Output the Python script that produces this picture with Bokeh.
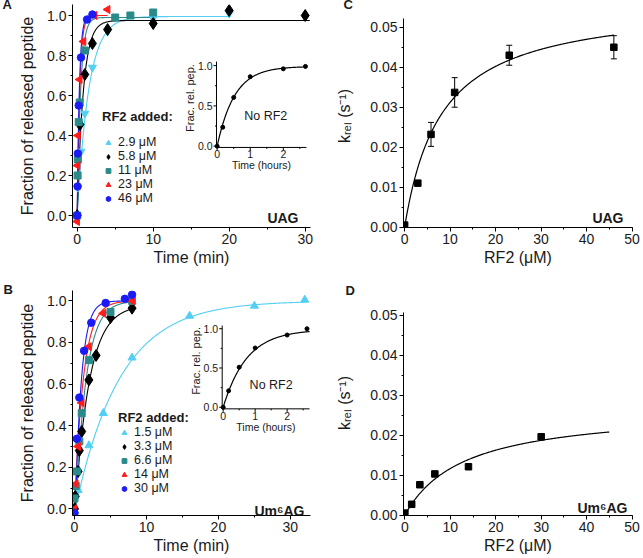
import numpy as np
from bokeh.plotting import figure
from bokeh.models import (Range1d, SingleIntervalTicker, NumeralTickFormatter,
                          Legend, LegendItem, Label, Title)
from bokeh.layouts import column, row
from bokeh.embed import file_html
from bokeh.resources import INLINE
from bokeh.core.properties import value

FONT = "Liberation Sans"
TXT = "#1a1a1a"

# ---------------- data: panel A (UAG) ----------------
a_labels = ["2.9 μM", "5.8 μM", "11 μM", "23 μM", "46 μM"]
a_t_29 = [0, 0.08, 0.5, 1, 2, 4, 10, 20]
a_f_29 = [0.0, 0.14, 0.32, 0.51, 0.74, 0.92, 0.985, 1.01]
a_t_58 = [0, 0.35, 1, 2, 4, 10, 20, 30]
a_f_58 = [0.0, 0.455, 0.705, 0.86, 0.93, 0.96, 1.025, 1.0]
a_t_11 = [0, 0.05, 0.08, 0.2, 0.33, 1, 5, 7, 10]
a_f_11 = [0.0, 0.2, 0.28, 0.467, 0.565, 0.825, 0.99, 1.0, 1.015]
a_t_23 = [0, 0.05, 0.1, 0.33, 0.83, 2.3, 4]
a_f_23 = [-0.03, 0.25, 0.40, 0.68, 0.87, 1.0, 1.03]
a_t_46 = [0, 0.05, 0.08, 0.2, 0.5, 1.3, 2]
a_f_46 = [0.0, 0.145, 0.31, 0.55, 0.79, 0.98, 1.005]
# single-exponential fit parameters (amplitude, rate /min, lag min, last time)
a_fit_amp = [0.995, 0.975, 0.99, 1.0, 1.0]
a_fit_k = [0.66, 1.25, 2.2, 3.0, 3.5]
a_fit_lag = [0.0, 0.0, 0.0, 0.0, 0.0]
a_fit_end = [20, 30.6, 10, 4, 2]

# inset A (no RF2, hours)
ia_t = [0, 0.17, 0.5, 1, 2, 2.67]
ia_f = [0.0, 0.235, 0.605, 0.862, 0.96, 0.99]
ia_fit = [0.99, 1.9]

# ---------------- data: panel B (Um6AG) ----------------
b_labels = ["1.5 μM", "3.3 μM", "6.6 μM", "14 μM", "30 μM"]
b_t_15 = [0, 0.5, 2, 4, 8, 16, 25, 32]
b_f_15 = [-0.01, 0.09, 0.305, 0.46, 0.727, 0.928, 0.976, 1.005]
b_t_33 = [0, 0.1, 0.5, 0.67, 1, 2, 3, 5, 8]
b_f_33 = [0.0, 0.06, 0.18, 0.28, 0.372, 0.62, 0.738, 0.92, 0.965]
b_t_66 = [0, 0.17, 0.33, 0.67, 1, 2, 5, 8]
b_f_66 = [0.05, 0.11, 0.18, 0.325, 0.46, 0.715, 0.947, 1.0]
b_t_14 = [0, 0.17, 0.5, 1, 2, 4, 8]
b_f_14 = [0.0, 0.12, 0.30, 0.51, 0.78, 0.94, 1.0]
b_t_30 = [0, 0.33, 0.67, 1.33, 2.33, 4.33, 7, 8]
b_f_30 = [-0.02, 0.337, 0.535, 0.76, 0.895, 0.99, 1.01, 1.03]
b_fit_amp = [1.0, 0.98, 1.0, 1.0, 1.0]
b_fit_k = [0.16, 0.5, 0.68, 0.8, 1.15]
b_fit_lag = [0.1, 0.1, 0.18, 0.0, 0.12]
b_fit_end = [32, 8, 8, 8, 8]

ib_t = [0, 0.17, 0.5, 1, 2, 2.62]
ib_f = [0.0, 0.21, 0.51, 0.755, 0.92, 1.0]
ib_fit = [0.99, 1.35]

# ---------------- data: panel C (UAG) ----------------
c_rf2 = [0, 2.9, 5.8, 11, 23, 46]
c_k = [0.0005, 0.011, 0.0232, 0.0337, 0.043, 0.045]
c_err = [0.0002, 0.0005, 0.003, 0.0037, 0.0025, 0.0029]
c_fit = [0.0565, 8.1, 46]   # kmax, K1/2, last x

# ---------------- data: panel D (Um6AG) ----------------
d_rf2 = [0, 1.5, 3.3, 6.6, 14, 30]
d_k = [0.0005, 0.0027, 0.0076, 0.0103, 0.0121, 0.0196]
d_err = [0.0002, 0.0003, 0.0006, 0.0004, 0.0004, 0.0007]
d_fit = [0.0268, 13.0, 45]

inset_xticks = [0, 1, 2]
inset_xlabels = ["0", "1", "2"]
inset_xminor = [0.5, 1.5, 2.5]
inset_yticks = [0.0, 0.5, 1.0]
inset_ylabels = ["0.0", "0.5", "1.0"]
inset_yminor = [0.25, 0.75]

COLORS = ["#52cff3", "#000000", "#2b8a89", "#ff1c1c", "#1b1bf5"]


def make_fig(w, h, xr, yr, bl, br, bt, bb, ylab_standoff):
    p = figure(width=w, height=h, x_range=Range1d(*xr), y_range=Range1d(*yr),
               output_backend="svg", toolbar_location=None,
               min_border_left=bl, min_border_right=br,
               min_border_top=bt, min_border_bottom=bb)
    p.grid.visible = False
    p.outline_line_color = None
    for ax in (p.xaxis[0], p.yaxis[0]):
        ax.axis_line_color = "black"
        ax.major_tick_line_color = "black"
        ax.minor_tick_line_color = "black"
        ax.major_tick_in = 0
        ax.major_tick_out = 4
        ax.minor_tick_in = 0
        ax.minor_tick_out = 2
        ax.major_label_text_font = FONT
        ax.major_label_text_font_size = "14px"
        ax.major_label_text_color = TXT
        ax.axis_label_text_font = FONT
        ax.axis_label_text_font_size = "16px"
        ax.axis_label_text_font_style = "normal"
        ax.axis_label_text_color = TXT
        ax.major_label_standoff = 2
        ax.axis_label_standoff = 2
    p.yaxis[0].axis_label_standoff = ylab_standoff
    return p


def letter_title(p, text, offset, standoff):
    p.title = Title(text=text, align="left", offset=offset, standoff=standoff,
                    text_font=FONT, text_font_size="13px", text_font_style="bold",
                    text_color=TXT)


def corner_label(p, text, x, y, size="14px", align="right"):
    p.add_layout(Label(x=x, y=y, x_units="screen", y_units="screen", text=text,
                       text_font=FONT, text_font_size=size, text_font_style="bold",
                       text_align=align, text_baseline="alphabetic", text_color=TXT))


def inset_range(d0, d1, f0, f1):
    span = (d1 - d0) / (f1 - f0)
    return Range1d(d0 - f0 * span, d0 + (1 - f0) * span)


def add_inset(p, fx, fy, xd, yd, t, f, fit, note_xy):
    p.extra_x_ranges = {"ix": inset_range(xd[0], xd[1], fx[0], fx[1])}
    p.extra_y_ranges = {"iy": inset_range(yd[0], yd[1], fy[0], fy[1])}
    kw = dict(x_range_name="ix", y_range_name="iy")
    p.segment(x0=[xd[0], xd[0]], y0=[yd[0], yd[0]], x1=[xd[1], xd[0]], y1=[yd[0], yd[1]],
              line_color="black", line_width=1, **kw)
    p.ray(x=inset_xticks, y=[yd[0]] * len(inset_xticks), length=3, angle=-np.pi / 2,
          length_units="screen", line_color="black", **kw)
    p.ray(x=inset_xminor, y=[yd[0]] * len(inset_xminor), length=1.5, angle=-np.pi / 2,
          length_units="screen", line_color="black", **kw)
    p.ray(x=[xd[0]] * len(inset_yticks), y=inset_yticks, length=3, angle=np.pi,
          length_units="screen", line_color="black", **kw)
    p.ray(x=[xd[0]] * len(inset_yminor), y=inset_yminor, length=1.5, angle=np.pi,
          length_units="screen", line_color="black", **kw)
    p.text(x=[xd[0]] * 3, y=inset_yticks, text=inset_ylabels, x_offset=-4,
           text_align="right", text_baseline="middle", text_font=value(FONT),
           text_font_size="10.5px", text_color=TXT, **kw)
    p.text(x=inset_xticks, y=[yd[0]] * 3, text=inset_xlabels, y_offset=3,
           text_align="center", text_baseline="top", text_font=value(FONT),
           text_font_size="10.5px", text_color=TXT, **kw)
    p.text(x=[(xd[0] + xd[1]) / 2], y=[yd[0]], text=["Time (hours)"], y_offset=12,
           text_align="center", text_baseline="top", text_font=value(FONT),
           text_font_size="10.5px", text_color=TXT, **kw)
    p.text(x=[xd[0]], y=[(yd[0] + yd[1]) / 2 + 0.08], text=["Frac. rel. pep."], x_offset=-26,
           angle=np.pi / 2, text_align="center", text_baseline="middle",
           text_font=value(FONT), text_font_size="11px", text_color=TXT, **kw)
    tt = np.linspace(0, xd[1], 200)
    p.line(tt, fit[0] * (1 - np.exp(-fit[1] * tt)), line_color="black", line_width=1.2, **kw)
    p.scatter(t, f, size=4, color="black", **kw)
    p.add_layout(Label(x=note_xy[0], y=note_xy[1], x_range_name="ix", y_range_name="iy",
                       text="No RF2", text_font=FONT, text_font_size="12.5px",
                       text_align="center", text_baseline="middle", text_color=TXT))


def kinetics(p, ts, fs, amps, ks, lags, ends, labels, markers, leg_markers, loc, tstand):
    items = []
    for i in range(5):
        c = COLORS[i]
        tt = np.linspace(0, ends[i], 400)
        yy = amps[i] * (1 - np.exp(-ks[i] * np.clip(tt - lags[i], 0, None)))
        p.line(tt, yy, line_color=c, line_width=1.1)
    for i in range(5):
        c = COLORS[i]
        m, ang, sz = markers[i]
        r = p.scatter(ts[i], fs[i], marker=m, angle=ang, size=sz, fill_color=c, line_color=c)
        lm = leg_markers[i]
        if lm is None:
            items.append(LegendItem(label=labels[i], renderers=[r]))
        else:
            r2 = p.scatter([np.nan], [np.nan], marker=lm[0], angle=lm[1], size=lm[2],
                           fill_color=c, line_color=c)
            items.append(LegendItem(label=labels[i], renderers=[r2]))
    leg = Legend(items=items, location=loc, title="RF2 added:",
                 title_text_font=FONT, title_text_font_size="13px", title_text_font_style="bold",
                 title_text_color=TXT, title_standoff=tstand,
                 label_text_font=FONT, label_text_font_size="12.5px", label_text_color=TXT,
                 label_height=13, glyph_height=13, glyph_width=12, label_standoff=4,
                 spacing=0, padding=0, margin=0, background_fill_alpha=0, border_line_alpha=0)
    p.add_layout(leg)


def kin_axes(p):
    p.xaxis[0].ticker = SingleIntervalTicker(interval=10, num_minor_ticks=2)
    p.yaxis[0].ticker = SingleIntervalTicker(interval=0.2, num_minor_ticks=2)
    p.xaxis[0].formatter = NumeralTickFormatter(format="0")
    p.yaxis[0].formatter = NumeralTickFormatter(format="0.0")
    p.xaxis[0].axis_label = "Time (min)"
    p.yaxis[0].axis_label = "Fraction of released peptide"


def rate_axes(p, ybounds):
    p.xaxis[0].ticker = SingleIntervalTicker(interval=10, num_minor_ticks=2)
    p.yaxis[0].ticker = SingleIntervalTicker(interval=0.01, num_minor_ticks=2)
    p.xaxis[0].formatter = NumeralTickFormatter(format="0")
    p.yaxis[0].formatter = NumeralTickFormatter(format="0.00")
    p.yaxis[0].bounds = ybounds
    p.xaxis[0].axis_label = "RF2 (μM)"
    p.yaxis[0].axis_label = "kᵣₑₗ (s⁻¹)"


def rate_points(p, x, y, e, fit):
    xx = np.linspace(0, fit[2], 300)
    p.line(xx, fit[0] * xx / (fit[1] + xx), line_color="black", line_width=1.2)
    lo = [a - b for a, b in zip(y, e)]
    hi = [a + b for a, b in zip(y, e)]
    p.segment(x0=x, y0=lo, x1=x, y1=hi, line_color="black", line_width=1)
    p.scatter(x, lo, marker="dash", size=6, line_color="black")
    p.scatter(x, hi, marker="dash", size=6, line_color="black")
    p.scatter(x, y, marker="square", size=6.5, color="black")


KIN_MARKERS_A = [("inverted_triangle", 0, 8), ("diamond", 0, 12), ("square", 0, 7),
                 ("triangle", np.pi / 2, 8), ("circle", 0, 7.5)]
KIN_MARKERS_B = [("triangle", 0, 8), ("diamond", 0, 12), ("square", 0, 7),
                 ("triangle", np.pi / 2, 8), ("circle", 0, 7.5)]

# ---------------- Panel A ----------------
pA = make_fig(330, 280, (-0.62, 30.7), (-0.06, 1.055), 72, 20, 4, 53, 8)
kin_axes(pA)
kinetics(pA, [a_t_29, a_t_58, a_t_11, a_t_23, a_t_46],
         [a_f_29, a_f_58, a_f_11, a_f_23, a_f_46],
         a_fit_amp, a_fit_k, a_fit_lag, a_fit_end, a_labels,
         KIN_MARKERS_A, [("triangle", 0, 8), None, None, None, None], (30, 22), 11)
add_inset(pA, (0.605, 0.983), (0.359, 0.744), (-0.02, 2.7), (-0.016, 1.05), ia_t, ia_f, ia_fit,
          (1.47, 0.38))
letter_title(pA, "A", -70, -14)
corner_label(pA, "UAG", 226, 10)

# ---------------- Panel C ----------------
pC = make_fig(313, 280, (-0.25, 50.1), (-0.0001, 0.0557), 73, 11, 4, 53, 14)
rate_axes(pC, (-0.0001, 0.0522))
rate_points(pC, c_rf2, c_k, c_err, c_fit)
letter_title(pC, "C", -60, -14)
corner_label(pC, "UAG", 220, 10)

# ---------------- Panel B ----------------
pB = make_fig(330, 278, (-0.28, 32.8), (-0.032, 1.05), 72, 20, 10, 43, 8)
kin_axes(pB)
kinetics(pB, [b_t_15, b_t_33, b_t_66, b_t_14, b_t_30],
         [b_f_15, b_f_33, b_f_66, b_f_14, b_f_30],
         b_fit_amp, b_fit_k, b_fit_lag, b_fit_end, b_labels,
         KIN_MARKERS_B, [None, None, None, None, None], (46, 20), 0)
add_inset(pB, (0.629, 0.996), (0.474, 0.844), (-0.03, 2.7), (-0.02, 1.04), ib_t, ib_f, ib_fit,
          (1.5, 0.29))
letter_title(pB, "B", -69, -12)
corner_label(pB, "Um⁶AG", 232, 5)

# ---------------- Panel D ----------------
pD = make_fig(313, 278, (-0.3, 50.1), (-0.0001, 0.0562), 73, 11, 10, 43, 14)
rate_axes(pD, (-0.0001, 0.0508))
rate_points(pD, d_rf2, d_k, d_err, d_fit)
letter_title(pD, "D", -58, -14)
corner_label(pD, "Um⁶AG", 224, 8)

layout = column(row(pA, pC), row(pB, pD))
open("out.html", "w").write(file_html(layout, INLINE))
